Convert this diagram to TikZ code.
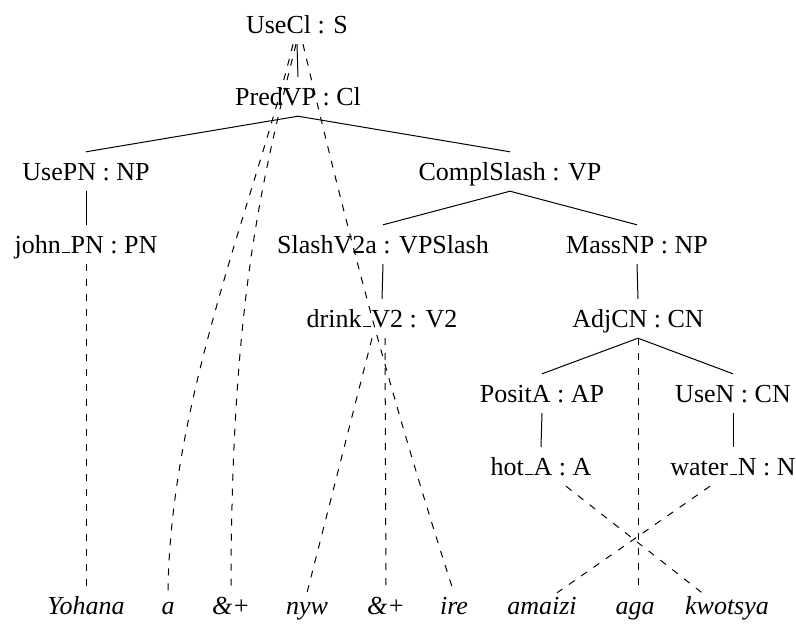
\documentclass[tikz,border=0pt]{standalone}
\usepackage{fontspec}
\setmainfont{Liberation Serif}
\newcommand\lowbar{\leavevmode\kern.06em\vbox{\hrule width.3em height .04em}\kern.02em}
\begin{document}
\begin{tikzpicture}[x=1pt,y=-1pt,
  lbl/.style={inner sep=0pt, text height=28pt, text depth=11pt, anchor=base, font=\fontsize{26}{31}\selectfont},
  wrd/.style={inner sep=0pt, text height=21pt, text depth=6pt, anchor=base, font=\fontsize{26}{31}\selectfont\itshape},
  tree/.style={line width=1pt},
  link/.style={line width=1pt, dash pattern=on 7pt off 8pt}]
\useasboundingbox (0,0) rectangle (796,625);
% tree nodes
\node[lbl] (usecl) at (297,33) {UseCl : S};
\node[lbl] (predvp) at (298,105) {PredVP : Cl};
\node[lbl] (usepn) at (86,180) {UsePN : NP};
\node[lbl] (compl) at (510,180) {ComplSlash : VP};
\node[lbl] (john) at (86,253) {john\lowbar PN : PN};
\node[lbl] (slash) at (383,253) {SlashV2a : VPSlash};
\node[lbl] (mass) at (637,253) {MassNP : NP};
\node[lbl] (drink) at (382,327) {drink\lowbar V2 : V2};
\node[lbl] (adjcn) at (638,327) {AdjCN : CN};
\node[lbl] (posita) at (542,402) {PositA : AP};
\node[lbl] (usen) at (733,402) {UseN : CN};
\node[lbl] (hot) at (541,475) {hot\lowbar A : A};
\node[lbl] (water) at (733,475) {water\lowbar N : N};
% words
\node[wrd] (w1) at (86,614) {Yohana};
\node[wrd] (w2) at (168,614) {a};
\node[wrd] (w3) at (231,614) {\&+};
\node[wrd] (w4) at (307,614) {nyw};
\node[wrd] (w5) at (386,614) {\&+};
\node[wrd] (w6) at (454,614) {ire};
\node[wrd] (w7) at (542,614) {amaizi};
\node[wrd] (w8) at (635,614) {aga};
\node[wrd] (w9) at (727,614) {kwotsya};
% tree edges
\draw[tree] (usecl.south) -- (predvp.north);
\draw[tree] (predvp.south) -- (usepn.north);
\draw[tree] (predvp.south) -- (compl.north);
\draw[tree] (usepn.south) -- (john.north);
\draw[tree] (compl.south) -- (slash.north);
\draw[tree] (compl.south) -- (mass.north);
\draw[tree] (slash.south) -- (drink.north);
\draw[tree] (mass.south) -- (adjcn.north);
\draw[tree] (adjcn.south) -- (posita.north);
\draw[tree] (adjcn.south) -- (usen.north);
\draw[tree] (posita.south) -- (hot.north);
\draw[tree] (usen.south) -- (water.north);
% alignment links
\draw[link] (john.south) -- (w1.north);
\draw[link] ([xshift=-4pt]usecl.south) .. controls (255,200) and (170,400) .. (w2.north);
\draw[link] ([xshift=-1pt]usecl.south) .. controls (262,180) and (231,300) .. (w3.north);
\draw[link] ([xshift=6pt]usecl.south) .. controls (340,200) and (385,380) .. (w6.north);
\draw[link] ([xshift=-10pt]drink.south) -- (w4.north);
\draw[link] ([xshift=3pt]drink.south) -- (w5.north);
\draw[link] (adjcn.south) -- ([xshift=3pt]w8.north);
\draw[link] ([xshift=25pt]hot.south) -- ([xshift=-25pt]w9.north);
\draw[link] ([xshift=-23pt]water.south) -- ([xshift=15pt]w7.north);
\end{tikzpicture}
\end{document}
